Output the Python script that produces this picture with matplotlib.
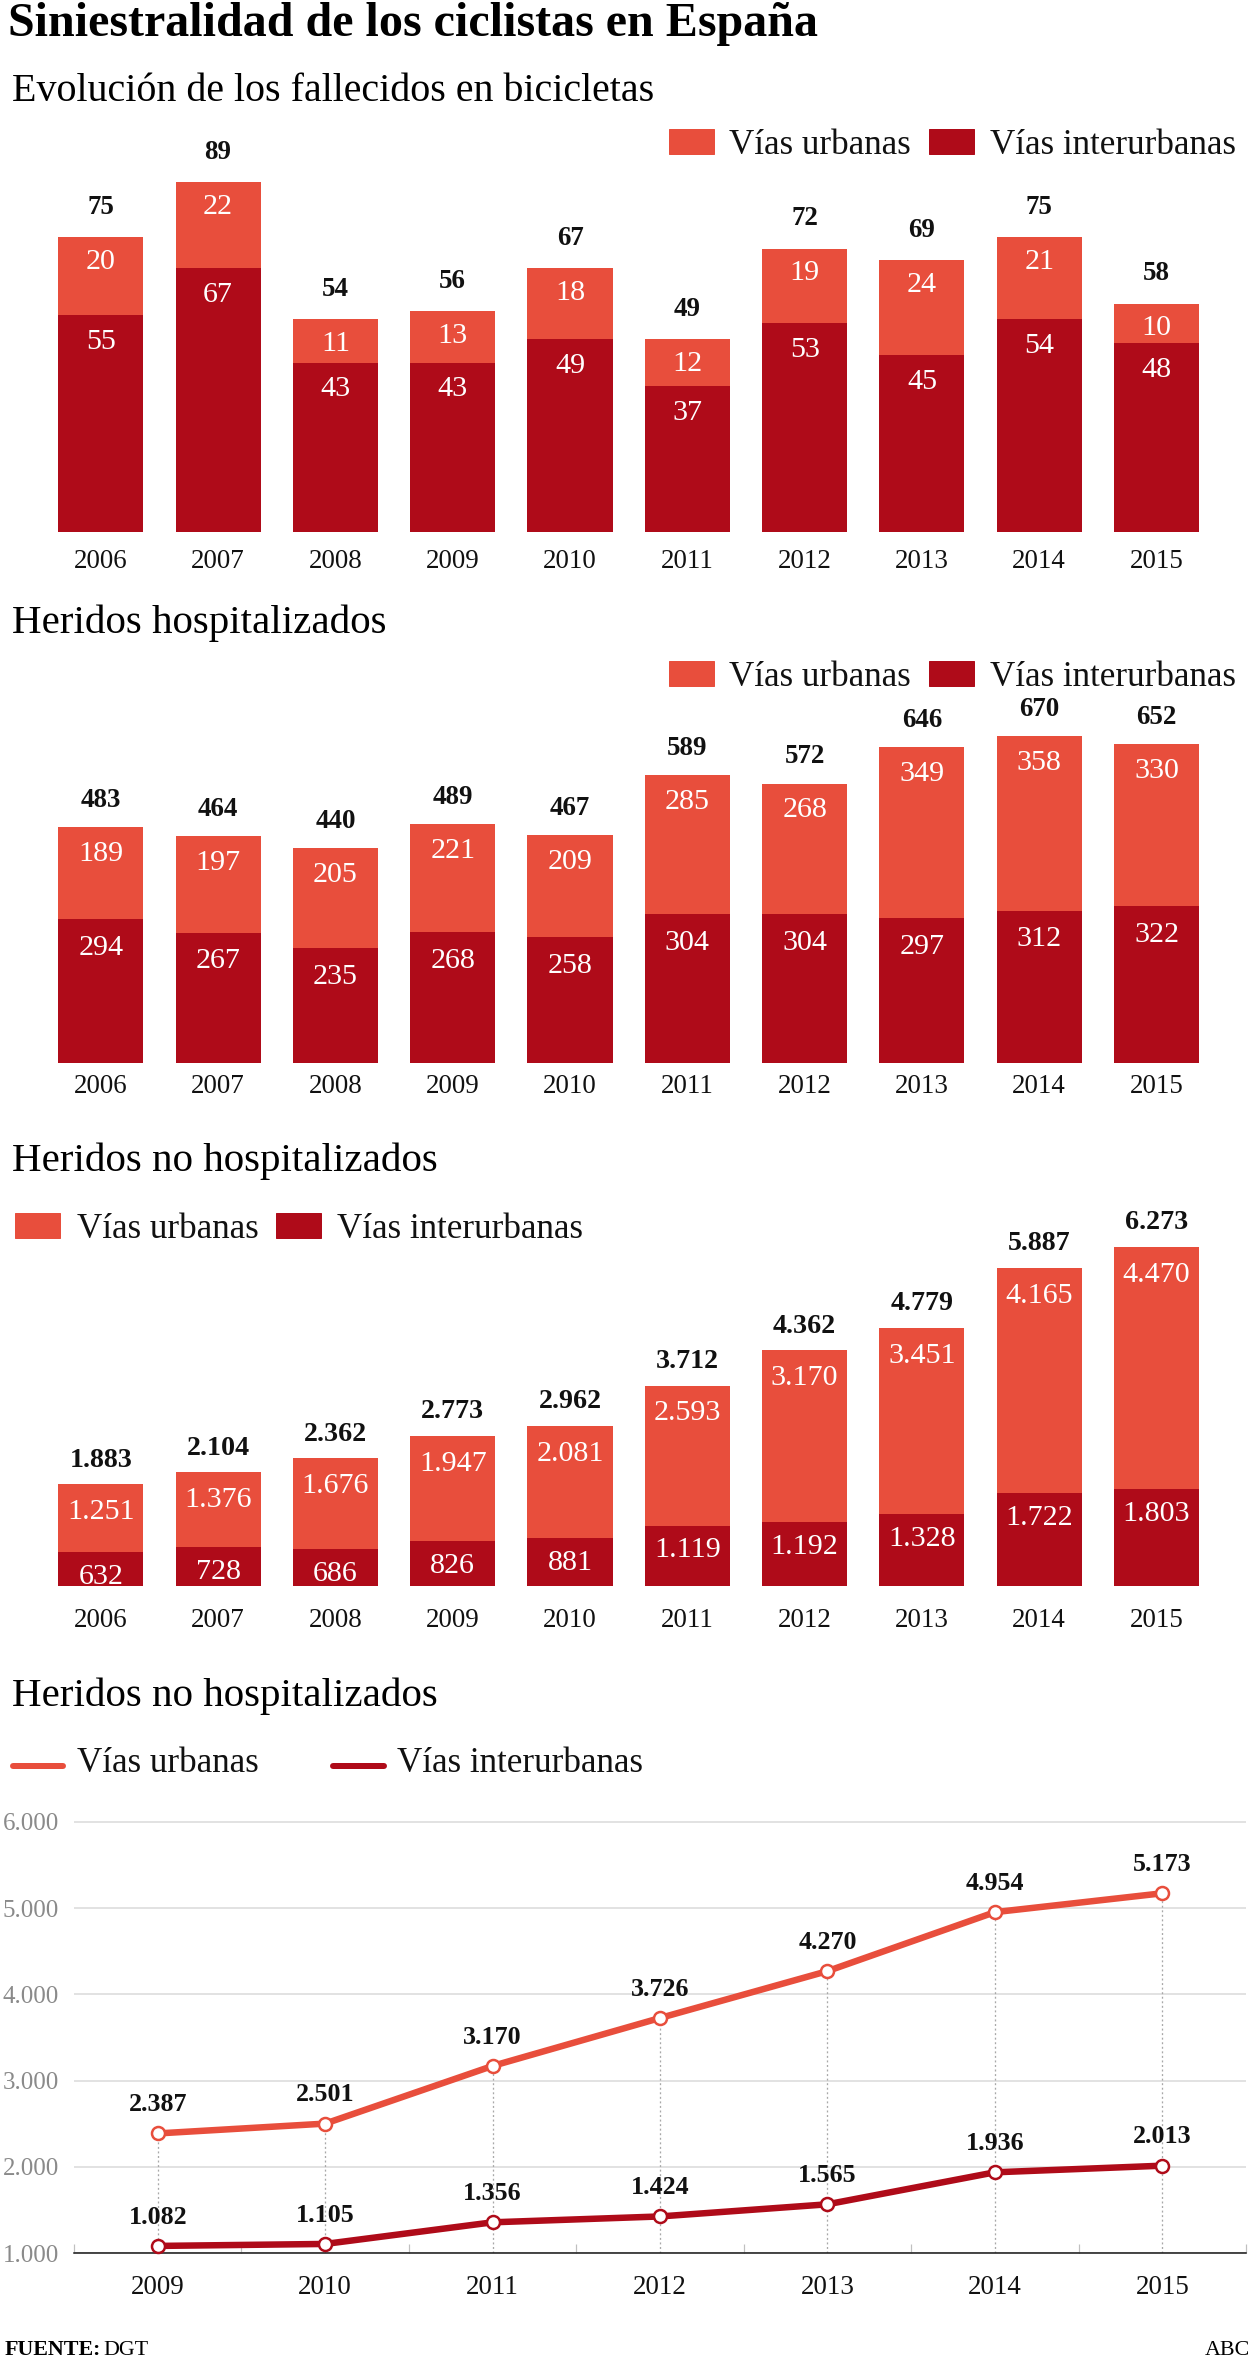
import numpy as np
import matplotlib
matplotlib.use("Agg")
import matplotlib.pyplot as plt
from matplotlib.patches import Rectangle
from matplotlib.lines import Line2D

plt.rcParams['font.family'] = ['Liberation Serif', 'DejaVu Serif']

# ---------------- data ----------------
years_bar = ['2006', '2007', '2008', '2009', '2010', '2011', '2012', '2013', '2014', '2015']

fallecidos_urbanas = [20, 22, 11, 13, 18, 12, 19, 24, 21, 10]
fallecidos_interurbanas = [55, 67, 43, 43, 49, 37, 53, 45, 54, 48]

hosp_urbanas = [189, 197, 205, 221, 209, 285, 268, 349, 358, 330]
hosp_interurbanas = [294, 267, 235, 268, 258, 304, 304, 297, 312, 322]

nohosp_urbanas = [1251, 1376, 1676, 1947, 2081, 2593, 3170, 3451, 4165, 4470]
nohosp_interurbanas = [632, 728, 686, 826, 881, 1119, 1192, 1328, 1722, 1803]

years_line = ['2009', '2010', '2011', '2012', '2013', '2014', '2015']
line_urbanas = [2387, 2501, 3170, 3726, 4270, 4954, 5173]
line_interurbanas = [1082, 1105, 1356, 1424, 1565, 1936, 2013]
line_yticks = [1000, 2000, 3000, 4000, 5000, 6000]

C_URB = '#E84E3C'
C_INT = '#AF0B19'

W, H = 1254, 2359
fig = plt.figure(figsize=(W / 72, H / 72), dpi=72)
fig.patch.set_facecolor('white')


def fmt(v):
    return f"{v:,}".replace(',', '.')


def ax_px(l, t, r, b):
    return fig.add_axes([l / W, 1 - b / H, (r - l) / W, (b - t) / H])


def ftext(x, y, s, **kw):
    return fig.text(x / W, 1 - y / H, s, **kw)


def label(ax, x, y, s, dy, fs, **kw):
    # dy: vertical offset (px, up positive) of the digit centre from the data point
    ax.annotate(s, (x, y), xytext=(0, dy - 0.33 * fs), textcoords='offset points',
                ha='center', va='baseline', fontsize=fs, annotation_clip=False, **kw)


def legend_boxes(ybot, items):
    for (xs, xt, text, col) in items:
        fig.patches.append(Rectangle((xs / W, 1 - ybot / H), 45 / W, 25 / H,
                                     transform=fig.transFigure, color=col))
        ftext(xt, ybot, text, fontsize=35, va='baseline', ha='left', color='#111111')


def bar_chart(bottom_px, px_per_unit, ymax, urb, inter, off_top, off_urb, off_int,
              year_off, top_fs):
    top_px = bottom_px - ymax * px_per_unit
    ax = ax_px(42.15, top_px, 1215.2, bottom_px)
    x = np.arange(len(years_bar))
    ax.bar(x, inter, width=0.725, color=C_INT, linewidth=0)
    ax.bar(x, urb, bottom=inter, width=0.725, color=C_URB, linewidth=0)
    ax.set_xlim(-0.5, len(years_bar) - 0.5)
    ax.set_ylim(0, ymax)
    ax.axis('off')
    for i in range(len(x)):
        tot = urb[i] + inter[i]
        label(ax, x[i], tot, fmt(tot), off_top, top_fs, fontweight='bold', color='#111111')
        label(ax, x[i], tot, fmt(urb[i]), -off_urb, 30, color='white')
        label(ax, x[i], inter[i], fmt(inter[i]), -off_int, 30, color='white')
        label(ax, x[i], 0, years_bar[i], -year_off, 27, color='#111111')
    return ax


# ---------------- titles ----------------
ftext(8, 36, 'Siniestralidad de los ciclistas en España', fontsize=48, fontweight='bold',
      va='baseline')

# chart 1
ftext(12, 101, 'Evolución de los fallecidos en bicicletas', fontsize=40, va='baseline')
legend_boxes(154, [(669, 729, 'Vías urbanas', C_URB), (929, 990, 'Vías interurbanas', C_INT)])
bar_chart(531.7, 3.933, 100, fallecidos_urbanas, fallecidos_interurbanas,
          32, 22, 24, 27, 27)

# chart 2
ftext(12, 633, 'Heridos hospitalizados', fontsize=41, va='baseline')
legend_boxes(686, [(669, 729, 'Vías urbanas', C_URB), (929, 990, 'Vías interurbanas', C_INT)])
bar_chart(1063, 0.4886, 800, hosp_urbanas, hosp_interurbanas,
          29, 24, 26, 21, 27)

# chart 3
ftext(12, 1171, 'Heridos no hospitalizados', fontsize=41, va='baseline')
legend_boxes(1238, [(15, 77, 'Vías urbanas', C_URB), (276, 337, 'Vías interurbanas', C_INT)])
bar_chart(1586, 0.05401, 7000, nohosp_urbanas, nohosp_interurbanas,
          27, 25, 22, 32, 28)

# ---------------- line chart ----------------
ftext(12, 1706, 'Heridos no hospitalizados', fontsize=41, va='baseline')
for (x0, x1, xt, text, col) in [(13, 63, 77, 'Vías urbanas', C_URB),
                                (333, 384, 397, 'Vías interurbanas', C_INT)]:
    fig.lines.append(Line2D([x0 / W, x1 / W], [1 - 1766 / H, 1 - 1766 / H],
                            transform=fig.transFigure, color=col, lw=6,
                            solid_capstyle='round'))
    ftext(xt, 1772, text, fontsize=35, va='baseline', ha='left', color='#111111')

ymin, ymax = 1000, 6100
ppu = 0.0862
ax4 = ax_px(74, 2253 - (ymax - ymin) * ppu, 1246, 2253)
xl = np.arange(len(years_line))
ax4.vlines(xl, ymin, line_urbanas, colors='#a8a8a8', linestyles=(0, (1.5, 2.0)), lw=1.3, zorder=1)
for vals, col in [(line_urbanas, C_URB), (line_interurbanas, C_INT)]:
    ax4.plot(xl, vals, color=col, lw=6.5, marker='o', ms=13, mfc='white', mec=col,
             mew=2.5, zorder=3, solid_capstyle='round', clip_on=False)
    for i, v in enumerate(vals):
        label(ax4, xl[i], v, fmt(v), 31, 26, fontweight='bold', color='#111111')

ax4.set_xlim(-0.5, len(years_line) - 0.5)
ax4.set_ylim(ymin, ymax)
ax4.set_yticks(line_yticks)
ax4.set_yticklabels([fmt(v) for v in line_yticks])
ax4.yaxis.grid(True, color='#d9d9d9', lw=1.5)
ax4.set_axisbelow(True)
for s in ['top', 'right', 'left']:
    ax4.spines[s].set_visible(False)
ax4.spines['bottom'].set_color('#111111')
ax4.spines['bottom'].set_linewidth(1.5)
ax4.tick_params(axis='y', length=0, pad=15, labelsize=25, labelcolor='#8a8a8a')
ax4.set_xticks(xl)
ax4.set_xticklabels(years_line)
ax4.set_xticks(np.arange(-0.5, len(years_line), 1.0), minor=True)
ax4.tick_params(axis='x', which='major', length=0, pad=22, labelsize=27, labelcolor='#111111')
ax4.tick_params(axis='x', which='minor', direction='in', length=9, width=1.2, color='#c0c0c0')

# ---------------- footer ----------------
ftext(5, 2355, 'FUENTE:', fontsize=22, fontweight='bold', va='baseline', ha='left')
ftext(103, 2355, 'DGT', fontsize=22, va='baseline', ha='left')
ftext(1250, 2355, 'ABC', fontsize=22, va='baseline', ha='right')

fig.savefig('out.png', dpi=72, facecolor='white')
